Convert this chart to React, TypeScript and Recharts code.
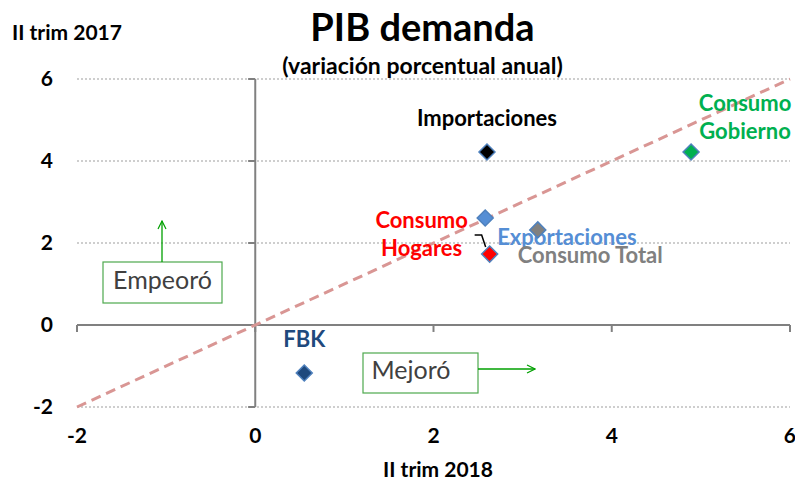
import {
  ScatterChart,
  Scatter,
  XAxis,
  YAxis,
  CartesianGrid,
  ReferenceLine,
} from 'recharts';

// Components of demand: growth in Q2 2018 (x) vs Q2 2017 (y)
const seriesNames = ['Importaciones', 'Consumo Gobierno', 'Exportaciones', 'Consumo Total', 'Consumo Hogares', 'FBK'];
const trim2018 = [2.6, 4.89, 2.58, 3.17, 2.63, 0.55];
const trim2017 = [4.22, 4.22, 2.61, 2.32, 1.73, -1.17];

const axisTicks = [-2, 0, 2, 4, 6];

const FONT = 'Lato, "Open Sans", sans-serif';
const MARKER_EDGE = '#4F81BD';

// Look of each series: marker fill, label text and where it sits around the marker
const looks: Record<string, { fill: string; text: string; lines: string[]; dx: number; dy: number; anchor: 'start' | 'middle' | 'end'; leader?: boolean }> = {
  Importaciones: { fill: '#000000', text: '#000000', lines: ['Importaciones'], dx: 0, dy: -32, anchor: 'middle' },
  'Consumo Gobierno': { fill: '#00B050', text: '#00B050', lines: ['Consumo', 'Gobierno'], dx: 54, dy: -47, anchor: 'middle' },
  Exportaciones: { fill: '#558ED5', text: '#558ED5', lines: ['Exportaciones'], dx: 12, dy: 21, anchor: 'start' },
  'Consumo Total': { fill: '#808080', text: '#808080', lines: ['Consumo Total'], dx: -20, dy: 27, anchor: 'start' },
  'Consumo Hogares': { fill: '#FF0000', text: '#FF0000', lines: ['Consumo', 'Hogares'], dx: -68, dy: -32, anchor: 'middle', leader: true },
  FBK: { fill: '#1F497D', text: '#1F497D', lines: ['FBK'], dx: 0, dy: -32, anchor: 'middle' },
};

const Diamond = (props: any) => {
  const { cx, cy, name } = props;
  const look = looks[name];
  const r = 8;
  return (
    <g>
      <path
        d={`M${cx},${cy - r} L${cx + r},${cy} L${cx},${cy + r} L${cx - r},${cy} Z`}
        fill={look.fill}
        stroke={MARKER_EDGE}
        strokeWidth={1.5}
      />
      {look.leader && (
        <polyline
          points={`${cx - 15},${cy - 19} ${cx - 8},${cy - 19} ${cx - 4},${cy - 7}`}
          fill="none"
          stroke="#000"
          strokeWidth={1.5}
        />
      )}
      {look.lines.map((l, i) => (
        <text
          key={i}
          x={cx + look.dx}
          y={cy + look.dy + i * 28}
          textAnchor={look.anchor}
          dominantBaseline="middle"
          fill={look.text}
          fontFamily={FONT}
          fontWeight={700}
          fontSize={22}
        >
          {l}
        </text>
      ))}
    </g>
  );
};

export default function App() {
  const textStyle = { position: 'absolute' as const, fontFamily: FONT, fontWeight: 700, color: '#000', whiteSpace: 'nowrap' as const };

  return (
    <div style={{ position: 'absolute', left: 0, top: 0, width: 795, height: 487, background: '#fff' }}>
      <ScatterChart width={795} height={487} margin={{ top: 79, right: 5, bottom: 40, left: 0 }}>
        <CartesianGrid vertical={false} stroke="#BFBFBF" strokeWidth={1.5} strokeDasharray="2 2" />
        <XAxis
          type="number"
          dataKey="x"
          domain={[-2, 6]}
          ticks={axisTicks}
          axisLine={false}
          tickLine={false}
          tickSize={0}
          tickMargin={21}
          height={40}
          tick={{ fill: '#000', fontSize: 21, fontWeight: 700, fontFamily: FONT }}
        />
        <YAxis
          type="number"
          dataKey="y"
          domain={[-2, 6]}
          ticks={axisTicks}
          axisLine={false}
          tickLine={false}
          tickSize={0}
          tickMargin={24}
          width={77}
          tick={{ fill: '#000', fontSize: 21, fontWeight: 700, fontFamily: FONT }}
        />
        {/* axes crossing at zero */}
        <ReferenceLine y={0} stroke="#808080" strokeWidth={2} />
        <ReferenceLine x={0} stroke="#808080" strokeWidth={2} />
        {axisTicks.map((t) => (
          <ReferenceLine key={'xt' + t} segment={[{ x: t, y: 0 }, { x: t, y: -0.17 }]} stroke="#808080" strokeWidth={2} />
        ))}
        {axisTicks.map((t) => (
          <ReferenceLine key={'yt' + t} segment={[{ x: -0.08, y: t }, { x: 0, y: t }]} stroke="#808080" strokeWidth={2} />
        ))}
        {/* 45-degree line */}
        <ReferenceLine
          segment={[{ x: -2, y: -2 }, { x: 6, y: 6 }]}
          stroke="#D99694"
          strokeWidth={3}
          strokeDasharray="10 6"
          ifOverflow="visible"
        />
        {seriesNames.map((name, i) => (
          <Scatter
            key={name}
            name={name}
            data={[{ x: trim2018[i], y: trim2017[i], name }]}
            shape={Diamond}
            isAnimationActive={false}
          />
        ))}
      </ScatterChart>

      <div style={{ ...textStyle, left: 0, width: 845, top: 3, textAlign: 'center', fontSize: 38 }}>PIB demanda</div>
      <div style={{ ...textStyle, left: 0, width: 845, top: 51, textAlign: 'center', fontSize: 23 }}>(variación porcentual anual)</div>
      <div style={{ ...textStyle, left: 12, top: 19, fontSize: 21 }}>II trim 2017</div>
      <div style={{ ...textStyle, left: 0, width: 876, top: 456, textAlign: 'center', fontSize: 21 }}>II trim 2018</div>

      <svg width={795} height={487} style={{ position: 'absolute', left: 0, top: 0, pointerEvents: 'none' }}>
        <defs>
          <marker id="arr" markerWidth="10" markerHeight="10" refX="9" refY="5" orient="auto" markerUnits="userSpaceOnUse">
            <path d="M1,1 L9,5 L1,9" fill="none" stroke="#00A000" strokeWidth={1.2} />
          </marker>
        </defs>
        <rect x={103} y={262} width={119} height={41} fill="#fff" stroke="#4EA84E" strokeWidth={1.2} />
        <text x={162.5} y={283} textAnchor="middle" dominantBaseline="middle" fontFamily={FONT} fontSize={25} fill="#404040">Empeoró</text>
        <line x1={162} y1={262} x2={162} y2={221} stroke="#00A000" strokeWidth={1.3} markerEnd="url(#arr)" />
        <rect x={363} y={353} width={115} height={40} fill="#fff" stroke="#4EA84E" strokeWidth={1.2} />
        <text x={411} y={373} textAnchor="middle" dominantBaseline="middle" fontFamily={FONT} fontSize={25} fill="#404040">Mejoró</text>
        <line x1={478} y1={369} x2={535} y2={369} stroke="#00A000" strokeWidth={1.3} markerEnd="url(#arr)" />
      </svg>
    </div>
  );
}
